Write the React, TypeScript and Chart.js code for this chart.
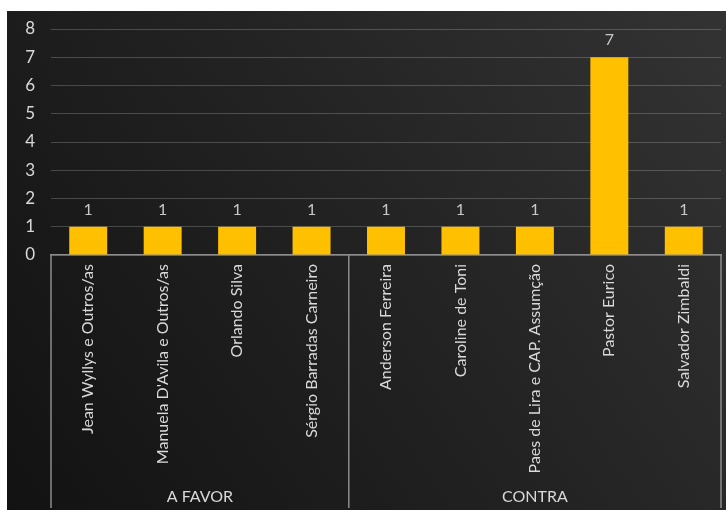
import React, { useEffect, useRef } from "react";
import { Chart, registerables } from "chart.js";

Chart.register(...registerables);

const categories = [
  "Jean Wyllys e Outros/as",
  "Manuela D'Avila e Outros/as",
  "Orlando Silva",
  "Sérgio Barradas Carneiro",
  "Anderson Ferreira",
  "Caroline de Toni",
  "Paes de Lira e CAP. Assumção",
  "Pastor Eurico",
  "Salvador Zimbaldi",
];
const values = [1, 1, 1, 1, 1, 1, 1, 7, 1];
const groupNames = ["A FAVOR", "CONTRA"];
const groupSizes = [4, 5];
const yMin = 0;
const yMax = 8;
const yStep = 1;

const FONT = "Lato, 'Open Sans', 'DejaVu Sans', sans-serif";
const TEXT = "#d9d9d9";

const bgPlugin = {
  id: "bg",
  beforeDraw(chart: any) {
    const { ctx, width, height } = chart;
    ctx.save();
    const g = ctx.createLinearGradient(0, height, width, 0);
    g.addColorStop(0, "#121212");
    g.addColorStop(0.5, "#222222");
    g.addColorStop(1, "#333333");
    ctx.fillStyle = g;
    ctx.fillRect(0, 0, width, height);
    ctx.restore();
  },
};

const groupPlugin = {
  id: "groups",
  afterDraw(chart: any) {
    const { ctx, chartArea, height } = chart;
    const xs = chart.scales.x;
    const half = (xs.getPixelForValue(1) - xs.getPixelForValue(0)) / 2;
    const bottom = height - 2;
    ctx.save();
    ctx.strokeStyle = "#8c8c8c";
    ctx.lineWidth = 1.5;
    let start = 0;
    const bounds: number[] = [xs.getPixelForValue(0) - half];
    groupSizes.forEach((n) => {
      start += n;
      bounds.push(xs.getPixelForValue(start - 1) + half);
    });
    bounds.forEach((x) => {
      ctx.beginPath();
      ctx.moveTo(x, chartArea.bottom);
      ctx.lineTo(x, bottom);
      ctx.stroke();
    });
    ctx.fillStyle = TEXT;
    ctx.font = `16px ${FONT}`;
    ctx.textAlign = "center";
    ctx.textBaseline = "middle";
    groupNames.forEach((name, i) => {
      const cx = (bounds[i] + bounds[i + 1]) / 2;
      ctx.fillText(name, cx, height - 13);
    });
    ctx.restore();
  },
};

const labelPlugin = {
  id: "valueLabels",
  afterDatasetsDraw(chart: any) {
    const { ctx } = chart;
    const meta = chart.getDatasetMeta(0);
    ctx.save();
    ctx.fillStyle = "#c8c8c8";
    ctx.font = `16px ${FONT}`;
    ctx.textAlign = "center";
    ctx.textBaseline = "middle";
    meta.data.forEach((bar: any, i: number) => {
      ctx.fillText(String(values[i]), bar.x, bar.y - 17);
    });
    ctx.restore();
  },
};

export default function App() {
  const ref = useRef<HTMLCanvasElement>(null);
  useEffect(() => {
    if (!ref.current) return;
    const chart = new Chart(ref.current, {
      type: "bar",
      data: {
        labels: categories,
        datasets: [
          {
            data: values,
            backgroundColor: "#FFC000",
            borderWidth: 0,
            categoryPercentage: 1,
            barPercentage: 0.51,
          },
        ],
      },
      options: {
        animation: false,
        responsive: true,
        maintainAspectRatio: false,
        layout: { padding: { top: 18, right: 5, left: 0, bottom: 0 } },
        plugins: {
          legend: { display: false },
          tooltip: { enabled: false },
        },
        scales: {
          x: {
            grid: { display: false, drawTicks: false },
            border: { display: true, color: "#8c8c8c", width: 1.5 },
            ticks: {
              color: TEXT,
              font: { family: FONT, size: 16 },
              minRotation: 90,
              maxRotation: 90,
              autoSkip: false,
              padding: 9,
            },
            afterFit(scale: any) {
              scale.height = 255;
            },
          },
          y: {
            min: yMin,
            max: yMax,
            ticks: {
              stepSize: yStep,
              color: TEXT,
              font: { family: FONT, size: 17 },
              padding: 16,
            },
            grid: { color: "rgba(255,255,255,0.2)", lineWidth: 1, drawTicks: false },
            border: { display: false },
            afterFit(scale: any) {
              scale.width = 44;
              scale.paddingTop = 0;
              scale.paddingBottom = 0;
            },
          },
        },
      },
      plugins: [bgPlugin, labelPlugin, groupPlugin],
    });
    return () => chart.destroy();
  }, []);
  return (
    <div style={{ position: "fixed", left: 7, top: 11, width: 719, height: 499 }}>
      <canvas ref={ref} />
    </div>
  );
}
